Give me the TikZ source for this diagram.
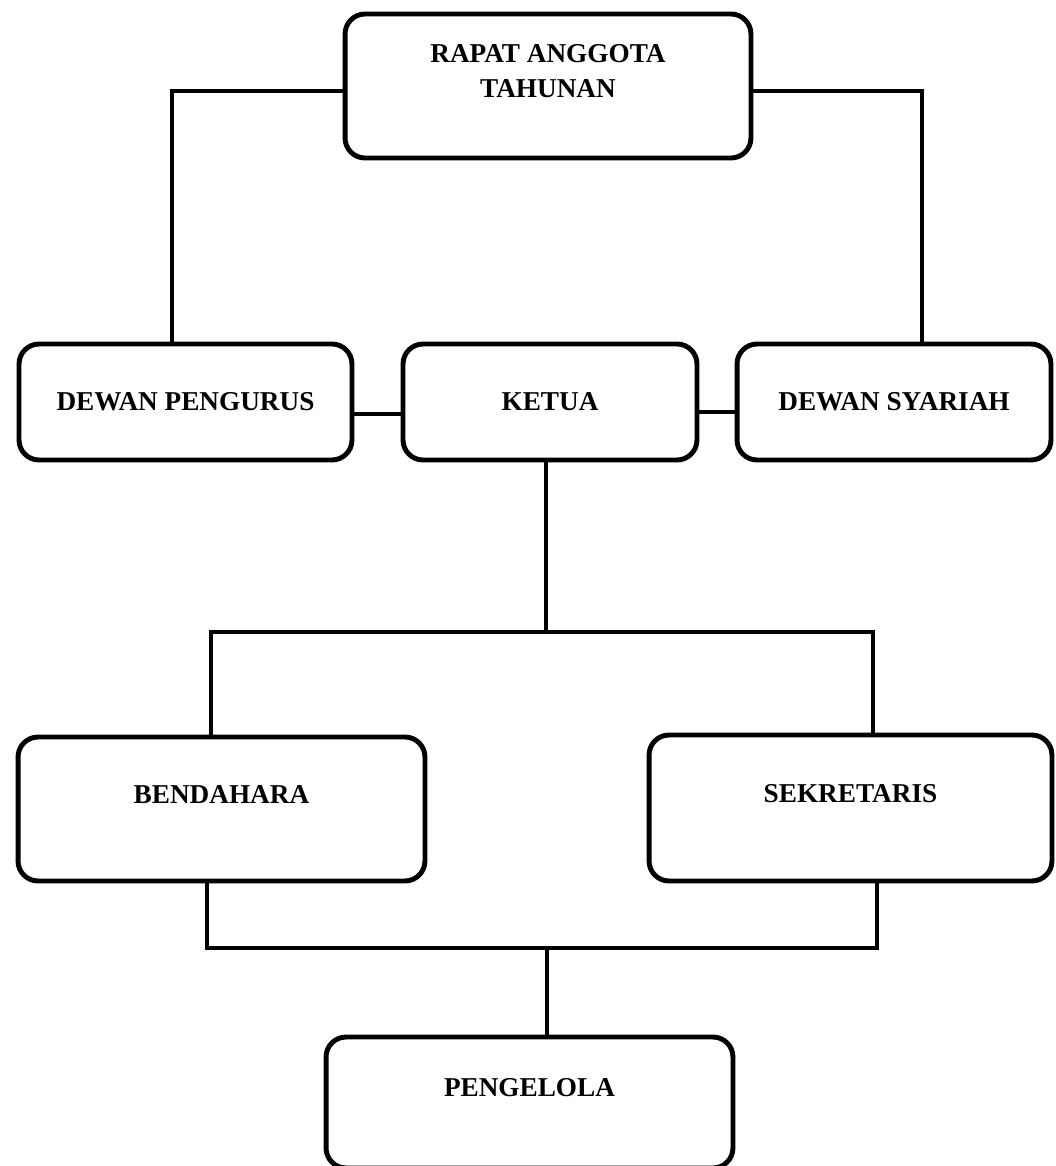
\documentclass[tikz,border=0pt]{standalone}
\usepackage{fontspec}
\setmainfont{Liberation Serif}

\begin{document}
\begin{tikzpicture}[x=0.02cm, y=-0.02cm,
    unit/.style={draw, rounded corners=0.4cm, line width=2.8pt, inner sep=0pt,
      align=center, font=\bfseries\fontsize{15.5}{20}\selectfont},
    link/.style={line width=2.5pt}]
    \useasboundingbox (0,0) rectangle (1055,1166);
    \begin{scope}[every node/.style={unit}]
        \node[minimum width=8.12cm, minimum height=2.88cm, text depth=0.6cm](rapat) at (548,86) {RAPAT ANGGOTA\\TAHUNAN};
        \node[minimum width=6.66cm, minimum height=2.32cm](pengurus) at (185.5,402) {DEWAN PENGURUS};
        \node[minimum width=5.88cm, minimum height=2.32cm](ketua) at (550,402) {KETUA};
        \node[minimum width=6.28cm, minimum height=2.32cm](syariah) at (894,402) {DEWAN SYARIAH};
        \node[minimum width=8.14cm, minimum height=2.88cm, text depth=0.6cm](bendahara) at (221.5,809) {BENDAHARA};
        \node[minimum width=8.06cm, minimum height=2.92cm, text depth=0.6cm](sekretaris) at (850.5,808) {SEKRETARIS};
        \node[minimum width=8.14cm, minimum height=2.62cm, text depth=0.6cm](pengelola) at (529.5,1102.5) {PENGELOLA};
    \end{scope}
    \coordinate (split) at (546,632);
    \coordinate (merge) at (547,948);
    % top level
    \draw[link] ([yshift=-0.1cm]rapat.west) -| ([xshift=-0.27cm]pengurus.north);
    \draw[link] ([yshift=-0.1cm]rapat.east) -| ([xshift=0.56cm]syariah.north);
    \draw[link] ([yshift=-0.24cm]pengurus.east) -- ([yshift=-0.24cm]ketua.west);
    \draw[link] ([yshift=-0.2cm]ketua.east) -- ([yshift=-0.2cm]syariah.west);
    % ketua down
    \draw[link] (ketua.south -| split) -- (split);
    \draw[link] ([xshift=-0.21cm]bendahara.north) |- (split) -| ([xshift=0.45cm]sekretaris.north);
    % pengelola
    \draw[link] ([xshift=-0.29cm]bendahara.south) |- (merge) -| ([xshift=0.53cm]sekretaris.south);
    \draw[link] (merge) -- (merge |- pengelola.north);
\end{tikzpicture}
\end{document}
